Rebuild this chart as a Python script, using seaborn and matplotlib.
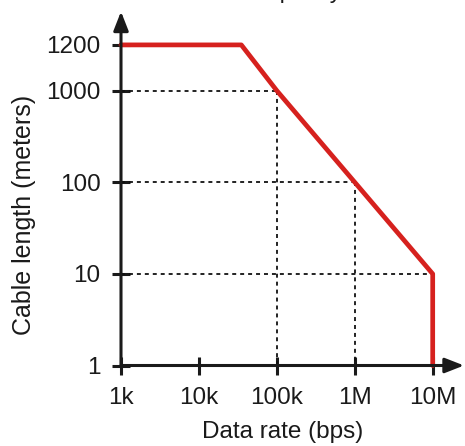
import numpy as np
import matplotlib
matplotlib.use("Agg")
import matplotlib.pyplot as plt
import seaborn as sns
import pandas as pd

# ---- data ----
rate_bps = [1e3, 3.5e4, 1e5, 1e6, 1e7, 1e7]
length_m = [1200, 1200, 1000, 100, 10, 1]

x_ticks = [1e3, 1e4, 1e5, 1e6, 1e7]
x_tick_labels = ["1k", "10k", "100k", "1M", "10M"]
y_ticks = [1, 10, 100, 1000, 1200]
y_tick_labels = ["1", "10", "100", "1000", "1200"]

# guide (dotted) corners: (rate, length)
guide_rate = [1e5, 1e6]
guide_len = [1000, 100]
guide_h10_len = 10
guide_h10_rate = 1e7

title_text = "Data rate vs. capacity"
xlabel = "Data rate (bps)"
ylabel = "Cable length (meters)"

# ---- style ----
sns.set_theme(style="white")
plt.rcParams["font.family"] = ["Liberation Sans", "DejaVu Sans"]

W, H = 465, 446
fig = plt.figure(figsize=(W / 100, H / 100), dpi=100)

x0, y0 = 121, 365.5  # origin px (1k, 1)
x1, y1 = 464, 11.5  # arrow tips px
ax = fig.add_axes([x0 / W, (H - y0) / H, (x1 - x0) / W, (y0 - y1) / H])


def fwd(y):
    y = np.asarray(y, dtype=float)
    with np.errstate(divide="ignore", invalid="ignore"):
        lg = np.log10(np.clip(y, 1e-12, None))
    return np.where(y <= 1000, lg, 3 + (y - 1000) / 400.0)


def inv(t):
    t = np.asarray(t, dtype=float)
    return np.where(t <= 3, 10 ** np.clip(t, -12, 3), 1000 + (t - 3) * 400.0)


ax.set_xscale("log")
ax.set_yscale("function", functions=(fwd, inv))

px_per_dec_x = (432.7 - 121) / 4
xmax = 10 ** (3 + (x1 - x0) / px_per_dec_x)
px_per_dec_y = (365.5 - 90.7) / 3
tmax = (y0 - y1) / px_per_dec_y
ymax = float(inv(tmax))
ax.set_xlim(1e3, xmax)
ax.set_ylim(1, ymax)

df = pd.DataFrame({"rate": rate_bps, "length": length_m})
sns.lineplot(data=df, x="rate", y="length", sort=False, estimator=None,
             color="#d6211e", lw=3.4, ax=ax, zorder=2, clip_on=False)

dot_kw = dict(color="#111111", lw=1.3, ls=(0, (2.2, 2.2)), zorder=1)
for r, l in zip(guide_rate, guide_len):
    ax.plot([1e3, r], [l, l], **dot_kw)
    ax.plot([r, r], [l, 1], **dot_kw)
ax.plot([1e3, guide_h10_rate], [guide_h10_len, guide_h10_len], **dot_kw)

for s in ax.spines.values():
    s.set_visible(False)
ax.grid(False)

ax.set_xticks(x_ticks)
ax.set_xticklabels(x_tick_labels)
ax.set_yticks(y_ticks)
ax.set_yticklabels(y_tick_labels)
ax.minorticks_off()
ax.tick_params(axis="both", direction="inout", length=12.5, width=2.2,
               color="#1a1a1a", labelsize=17.5, labelcolor="#1a1a1a",
               bottom=True, left=True)
ax.tick_params(axis="x", pad=9)
ax.tick_params(axis="y", pad=8.5)

arrow = dict(arrowstyle="-|>,head_length=1.15,head_width=0.45", lw=2.2,
             color="#1a1a1a", shrinkA=0, shrinkB=0, mutation_scale=10)
ax.annotate("", xy=(1, 0), xytext=(0, 0), xycoords="axes fraction",
            arrowprops=arrow, zorder=5, annotation_clip=False)
ax.annotate("", xy=(0, 1), xytext=(0, 0), xycoords="axes fraction",
            arrowprops=arrow, zorder=5, annotation_clip=False)

ax.set_xlabel(xlabel, fontsize=17.5, color="#1a1a1a")
ax.set_ylabel(ylabel, fontsize=18, color="#1a1a1a")
ax.xaxis.set_label_coords((283 - x0) / (x1 - x0), -(432 - y0) / (y0 - y1))
ax.yaxis.set_label_coords((24 - x0) / (x1 - x0), (y0 - 215) / (y0 - y1))
ax.xaxis.label.set_va("center")
ax.yaxis.label.set_va("center")

fig.text(342 / W, 1.0 + 2.0 / H, title_text, ha="right", va="baseline",
         fontsize=17, color="#1a1a1a")

fig.savefig("out.png", dpi=100)
